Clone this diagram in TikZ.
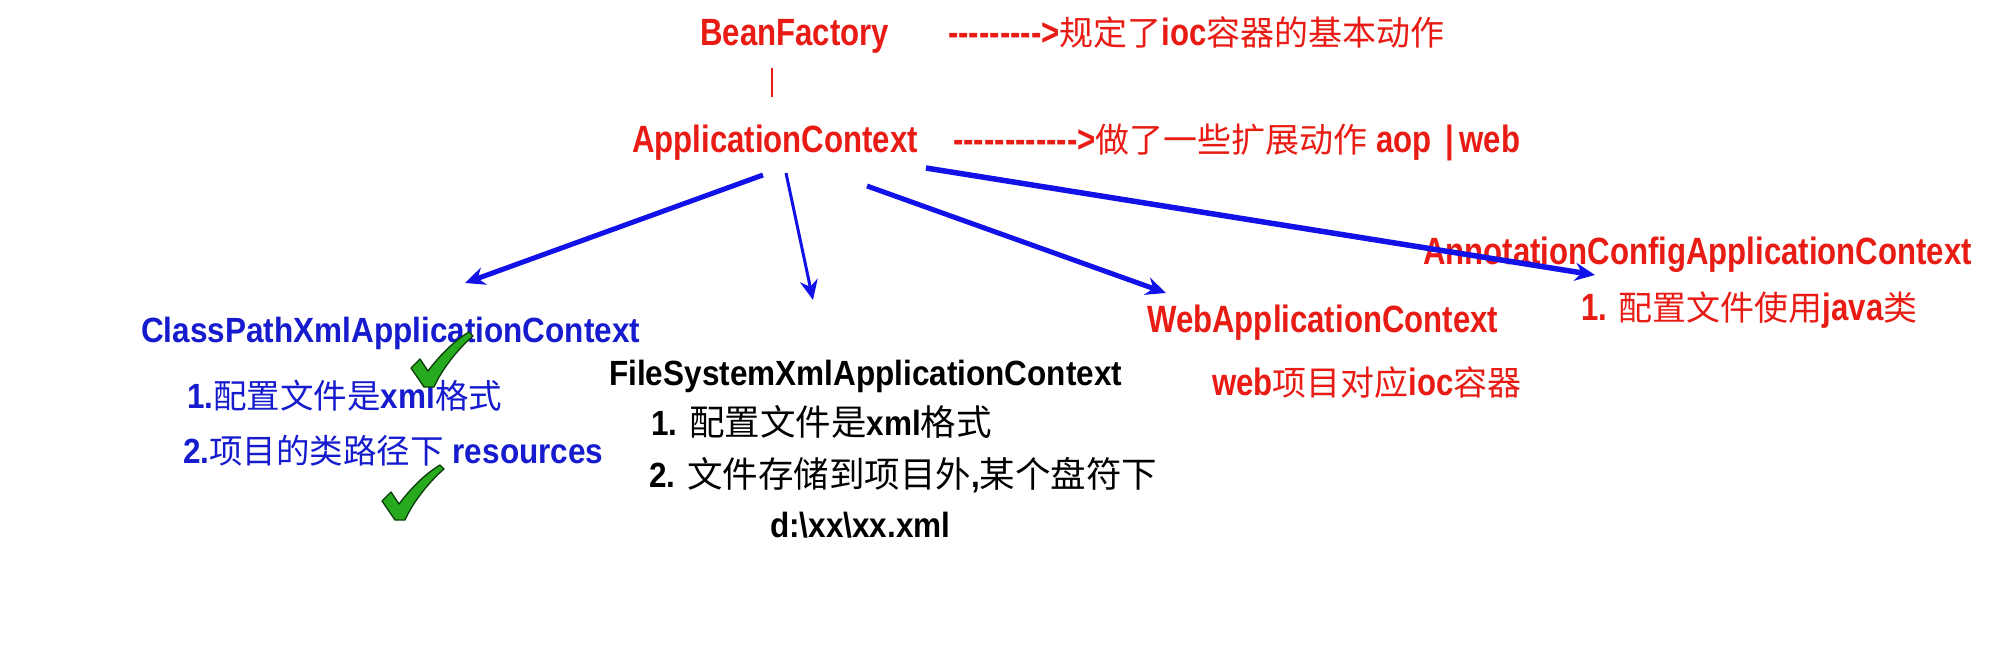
\documentclass[tikz,border=0pt]{standalone}
\usepackage{fontspec}
\usetikzlibrary{arrows.meta}
\newfontfamily\rfont{Liberation Sans}[FakeStretch=0.82]
\newfontfamily\bfontx{Liberation Sans}[FakeStretch=0.9]
\newfontfamily\cjkf{Noto Sans CJK SC}
\def\zhs{34}
\newcommand\zh[1]{{\cjkf\mdseries\fontsize{\zhs}{40}\selectfont #1}}
\definecolor{rtxt}{RGB}{232,28,20}
\definecolor{btxt}{RGB}{22,28,205}
\definecolor{barr}{RGB}{18,18,232}
\definecolor{gck}{RGB}{40,170,30}
\definecolor{gckline}{RGB}{10,60,10}
\tikzset{
  redt/.style={text=rtxt, font={\rfont\bfseries\fontsize{38}{40}\selectfont\def\zhs{34}}, inner sep=0pt, anchor=base west},
  bluet/.style={text=btxt, font={\bfontx\bfseries\fontsize{35}{40}\selectfont\def\zhs{33.5}}, inner sep=0pt, anchor=base west},
  blackt/.style={text=black, font={\bfontx\bfseries\fontsize{35}{40}\selectfont\def\zhs{35.5}}, inner sep=0pt, anchor=base west},
  link/.style={draw=barr, -{Stealth[length=20pt,width=18pt]}, line width=5pt},
  redbar/.style={draw=rtxt, line width=2.5pt},
  checkmk/.pic={\draw[fill=gck, draw=gckline, line width=1.3pt, line join=round]
     (-17,-17) -- (-8,-26) -- (0,-14) .. controls (12,-30) and (26,-44) .. (41,-53)
     -- (45,-49) .. controls (30,-36) and (14,-16) .. (6,2) -- (-4,2) -- cycle;}
}
\begin{document}
\begin{tikzpicture}[x=1pt,y=-1pt]
\fill[white] (0,0) rectangle (2014,671);
\useasboundingbox (0,0) rectangle (2014,671);

% top part
\node[redt] (bf) at (700,46) {BeanFactory};
\node[redt] (bfnote) at (948,46) {--------->\zh{规定了}ioc\zh{容器的基本动作}};
\coordinate (bar1) at (772,68);
\coordinate (bar2) at (772,97);
\draw[redbar] (bar1) -- (bar2);
\node[redt] (ac) at (632,153) {ApplicationContext};
\node[redt] (acnote) at (953,153) {------------>\zh{做了一些扩展动作} aop\hspace{14pt}|\hspace{5pt}web};

% ClassPath
\node[bluet] (cp) at (141,342) {ClassPathXmlApplicationContext};
\node[bluet] (cp1) at (187,408) {1.\zh{配置文件是}xml\zh{格式}};
\node[bluet] (cp2) at (183,463) {2.\zh{项目的类路径下} resources};

% FileSystem
\node[blackt] (fs) at (609,385) {FileSystemXmlApplicationContext};
\node[blackt] (fs1) at (651,435) {1. \zh{配置文件是}xml\zh{格式}};
\node[blackt] (fs2) at (649,487) {2. \zh{文件存储到项目外},\zh{某个盘符下}};
\node[blackt] (fs3) at (770,537) {d:\textbackslash xx\textbackslash xx.xml};

% Web
\node[redt] (web) at (1147,332) {WebApplicationContext};
\node[redt] (web1) at (1212,395) {web\zh{项目对应}ioc\zh{容器}};

% Annotation
\node[redt] (ann) at (1423,265) {AnnotationConfigApplicationContext};
\node[redt] (ann1) at (1581,320) {1. \zh{配置文件使用}java\zh{类}};

% arrows
\coordinate (sA) at (763,175);
\coordinate (eA) at (465,283);
\coordinate (sB) at (786,173);
\coordinate (eB) at (813,300);
\coordinate (sC) at (867,186);
\coordinate (eC) at (1166,293);
\coordinate (sD) at (926,168);
\coordinate (eD) at (1595,275);
\draw[link] (sA) -- (eA);
\draw[link, line width=3pt] (sB) -- (eB);
\draw[link] (sC) -- (eC);
\draw[link, line width=5.5pt] (sD) -- (eD);

% check marks
\pic at (428,385) {checkmk};
\pic at (399,518) {checkmk};
\end{tikzpicture}
\end{document}
